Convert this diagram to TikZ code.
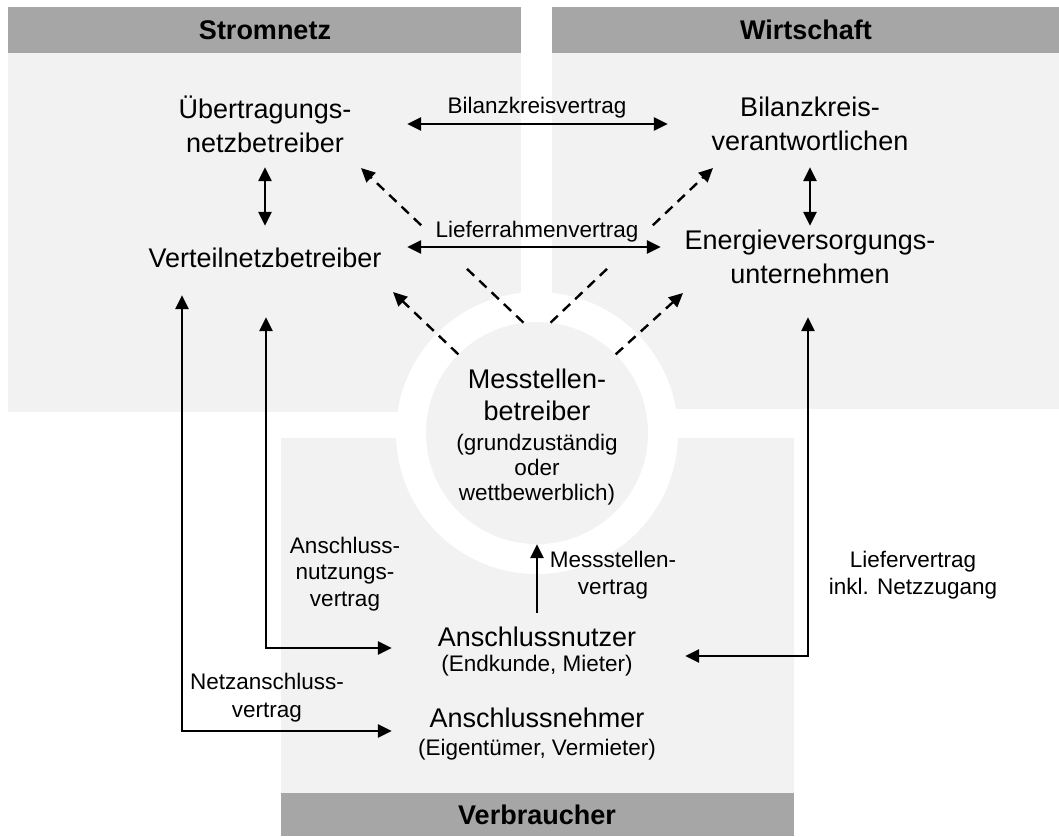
\documentclass[tikz,border=0pt]{standalone}
\usepackage{fontspec}
\setmainfont{Liberation Sans}
\usetikzlibrary{arrows.meta,calc}
\definecolor{panelgray}{HTML}{F2F2F2}
\definecolor{headgray}{HTML}{A6A6A6}
\tikzset{
  panel/.style={fill=panelgray, draw=none},
  headbar/.style={fill=headgray, draw=none},
  bigtext/.style={font=\fontsize{27}{34}\selectfont, align=center, inner sep=0pt},
  circtext/.style={font=\fontsize{27}{32}\selectfont, align=center, inner sep=0pt},
  smalltext/.style={font=\fontsize{22.5}{26.5}\selectfont, align=center, inner sep=0pt},
  headtext/.style={font=\fontsize{27}{32}\selectfont\bfseries, inner sep=0pt},
  tip/.tip={Triangle[length=14pt,width=13pt]},
  dconn/.style={line width=2.6pt, tip-tip},
  arr/.style={line width=2.6pt, -tip},
  dline/.style={line width=2.4pt, dash pattern=on 10pt off 7pt},
  darr/.style={line width=2.4pt, dash pattern=on 10pt off 7pt, -tip},
}
\begin{document}
\begin{tikzpicture}[x=1pt,y=-1pt]
\useasboundingbox (0,0) rectangle (1059,836);
% panels
\fill[panel] (8,7) rectangle (521,412);
\fill[headbar] (8,7) rectangle (521,53);
\fill[panel] (552,7) rectangle (1059,409);
\fill[headbar] (552,7) rectangle (1059,53);
\fill[panel] (281,438) rectangle (794,836);
\fill[headbar] (281,793) rectangle (794,836);
\node[headtext] (hstrom) at (265,30) {Stromnetz};
\node[headtext] (hwirt) at (806,30) {Wirtschaft};
\node[headtext] (hverb) at (537,815) {Verbraucher};
% circle
\node[circle, fill=white, minimum size=282pt, inner sep=0pt] (ring) at (537,433) {};
\node[circle, fill=panelgray, minimum size=222pt, inner sep=0pt] (msb) at (ring.center) {};
\node[circtext] (msbt) at (537,395) {Messtellen-\\betreiber};
\node[smalltext, font=\fontsize{22.5}{25}\selectfont] (msbs) at (537,470) {(grundzuständig\\oder\\wettbewerblich)};
% actors
\node[bigtext, minimum width=284pt, minimum height=86pt] (uenb) at (265,124) {Übertragungs-\\netzbetreiber};
\node[bigtext, minimum width=284pt, minimum height=64pt] (vnb) at (265,258) {Verteilnetzbetreiber};
\node[bigtext, minimum width=284pt, minimum height=86pt] (bkv) at (810,124) {Bilanzkreis-\\verantwortlichen};
\node[bigtext, minimum width=298pt, minimum height=62pt] (evu) at (810,257) {Energieversorgungs-\\unternehmen};
\node[bigtext, minimum width=290pt, minimum height=48pt] (anu) at (537,637) {Anschlussnutzer};
\node[smalltext] (anus) at (537,666) {(Endkunde, Mieter)};
\node[bigtext, minimum width=290pt, minimum height=48pt] (ane) at (537,718) {Anschlussnehmer};
\node[smalltext] (anes) at (537,750) {(Eigentümer, Vermieter)};
% labels
\node[smalltext] (lbk) at (537,108) {Bilanzkreisvertrag};
\node[smalltext] (lrv) at (537,232) {Lieferrahmenvertrag};
\node[smalltext] (lanv) at (345,574) {Anschluss-\\nutzungs-\\vertrag};
\node[smalltext, font=\fontsize{22.5}{28}\selectfont] (lnav) at (267,698) {Netzanschluss-\\vertrag};
\node[smalltext] (lmsv) at (613,575) {Messstellen-\\vertrag};
\node[smalltext] (llv) at (913,575) {Liefervertrag\\inkl. Netzzugang};
% solid connectors
\draw[dconn] (uenb.east) -- (bkv.west);
\draw[dconn] (uenb.south) -- (vnb.north);
\draw[dconn] (bkv.south) -- (evu.north);
\draw[dconn] ([yshift=11pt]vnb.east) -- ([yshift=11pt]vnb.east -| evu.west);
\draw[dconn] ([xshift=-83pt,yshift=-5pt]vnb.south) |- ([yshift=-13pt]ane.west);
\draw[dconn] ([xshift=1pt,yshift=-27pt]vnb.south) |- ([yshift=-11pt]anu.west);
\draw[dconn] ([xshift=-2pt,yshift=-29pt]evu.south) |- ([xshift=3pt,yshift=-19pt]anu.east);
\draw[arr] (anu.north) -- (msb.south);
% dashed connectors
\coordinate (tU) at (361,168);
\coordinate (tB) at (713,168);
\coordinate (tV) at (393,292);
\coordinate (tE) at (683,293);
\draw[dline] (msb.97) -- ($(msb.97)!0.36!(tU)$);
\draw[darr] ($(msb.97)!0.63!(tU)$) -- (tU);
\draw[dline] (msb.83) -- ($(msb.83)!0.36!(tB)$);
\draw[darr] ($(msb.83)!0.63!(tB)$) -- (tB);
\draw[darr] (msb.135) -- (tV);
\draw[darr] (msb.45) -- (tE);
\end{tikzpicture}
\end{document}
